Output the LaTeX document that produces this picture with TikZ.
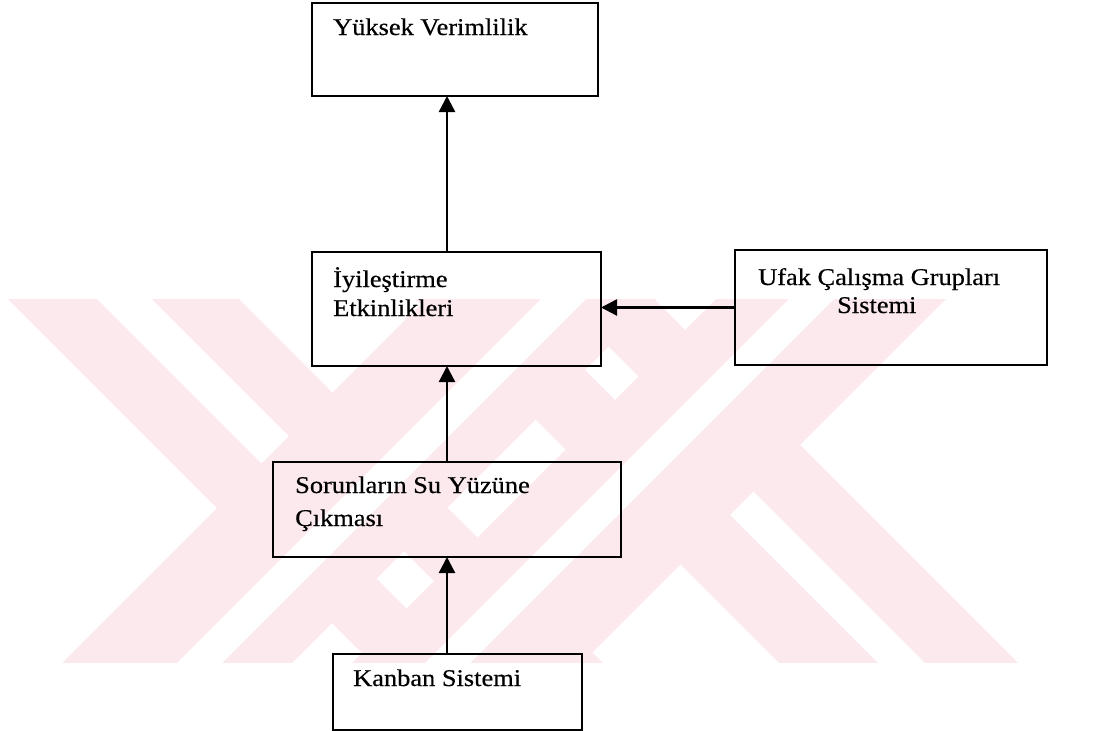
\documentclass[tikz,border=0pt]{standalone}
\usepackage{fontspec}
\setmainfont[FakeStretch=1.1, FakeBold=0.5]{Liberation Serif}
\usetikzlibrary{arrows.meta}
\definecolor{wmpink}{RGB}{252,233,237}
\begin{document}
\begin{tikzpicture}[x=1pt,y=-1pt,
  box/.style={draw=black, line width=2.2pt, inner sep=0pt, outer sep=0pt},
  lbl/.style={anchor=base west, inner sep=0pt, font=\fontsize{24}{29}\selectfont},
  arr/.style={line width=2.4pt, -{Triangle[length=16pt,width=16pt]}}]
\useasboundingbox (0,0) rectangle (1093,731);

% background emblem: diagonal pink bands
\begin{scope}
  \clip (0,299) rectangle (1093,662);
  % "\" bands, each split in two stripes
  \fill[wmpink] (-1,290) -- (88,290) -- (468,670) -- (379,670) -- cycle;
  \fill[wmpink] (143,290) -- (230,290) -- (610,670) -- (523,670) -- cycle;
  \fill[wmpink] (406,290) -- (505,290) -- (885,670) -- (786,670) -- cycle;
  \fill[wmpink] (552,290) -- (645,290) -- (1025,670) -- (932,670) -- cycle;
  % "/" bands
  \fill[wmpink] (435,290) -- (665,290) -- (285,670) -- (55,670) -- cycle;
  \fill[wmpink] (725,290) -- (955,290) -- (575,670) -- (345,670) -- cycle;
  % white grooves of the "/" bands
  \fill[white] (550,290) -- (595,290) -- (215,670) -- (170,670) -- cycle;
  \fill[white] (798,290) -- (843,290) -- (463,670) -- (418,670) -- cycle;
\end{scope}

% boxes
\node[box, minimum width=286pt, minimum height=93pt]  (yuksek) at (455,49.5) {};
\node[box, minimum width=289pt, minimum height=114pt] (iyi)    at (456.5,309) {};
\node[box, minimum width=312pt, minimum height=115pt] (ufak)   at (891,307.5) {};
\node[box, minimum width=348pt, minimum height=95pt]  (sorun)  at (447,509.5) {};
\node[box, minimum width=249pt, minimum height=76pt]  (kanban) at (457.5,692) {};

% texts
\node[lbl] (t1)  at (333,35)  {Yüksek Verimlilik};
\node[lbl] (t2a) at (333,287) {İyileştirme};
\node[lbl] (t2b) at (333,316) {Etkinlikleri};
\node[lbl] (t3a) at (758,285) {Ufak Çalışma Grupları};
\node[lbl] (t3b) at (837,313) {Sistemi};
\node[lbl] (t4a) at (295,493) {Sorunların Su Yüzüne};
\node[lbl] (t4b) at (295,526) {Çıkması};
\node[lbl] (t5)  at (353,686) {Kanban Sistemi};

% connectors
\draw[arr] (kanban.north -| sorun.north) -- (sorun.south);
\draw[arr] (sorun.north) -- (iyi.south -| sorun.north);
\draw[arr] (iyi.north -| sorun.north) -- (yuksek.south -| sorun.north);
\draw[arr] (ufak.west) -- (ufak.west -| iyi.east);
\end{tikzpicture}
\end{document}
